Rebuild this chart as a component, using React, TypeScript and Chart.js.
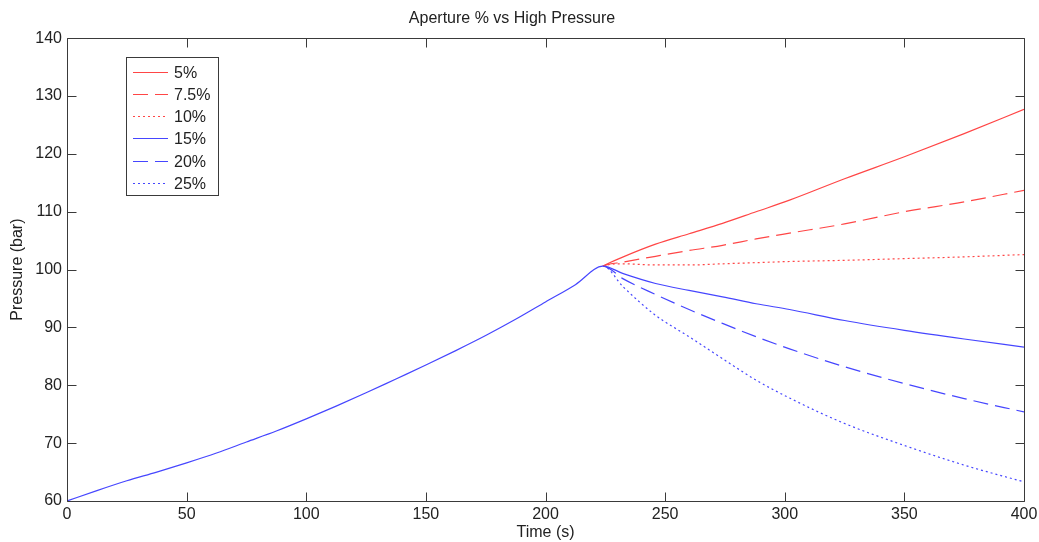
import React, { useEffect, useRef } from "react";
import { Chart, registerables } from "chart.js";

Chart.register(...registerables);

// Shared ramp-up phase (all apertures identical until ~224 s)
const riseTime = [0, 12.5, 25, 37.5, 50, 62.5, 75, 87.5, 100, 112.5, 125, 137.5, 150, 162.5, 175, 187.5, 200, 212.5, 224];
const risePressure = [60, 61.8, 63.5, 65.0, 66.6, 68.3, 70.2, 72.1, 74.2, 76.4, 78.7, 81.1, 83.5, 86.0, 88.6, 91.4, 94.4, 97.4, 100.6];

// Branch phase, after the aperture change
const branchTime = [232.5, 246, 260, 274, 288, 302, 325, 350, 375, 400];
const p5 = [102.2, 104.4, 106.2, 108.0, 110.0, 112.0, 115.7, 119.5, 123.5, 127.7];
const p7_5 = [101.3, 102.3, 103.3, 104.2, 105.3, 106.3, 107.9, 110.0, 111.7, 113.7];
const p10 = [101.0, 100.8, 100.8, 101.0, 101.2, 101.4, 101.6, 101.9, 102.2, 102.6];
const p15 = [99.3, 97.6, 96.4, 95.3, 94.1, 93.1, 91.2, 89.5, 88.0, 86.6];
const p20 = [98.4, 95.7, 93.1, 90.7, 88.4, 86.3, 83.2, 80.3, 77.7, 75.4];
const p25 = [97.0, 92.1, 88.4, 84.6, 80.9, 77.8, 73.4, 69.6, 66.2, 63.3];

const seriesLabels = ["5%", "7.5%", "10%", "15%", "20%", "25%"];
const seriesValues = [p5, p7_5, p10, p15, p20, p25];
const rampShownBy = "15%";

const xTicks = [0, 50, 100, 150, 200, 250, 300, 350, 400];
const yTicks = [60, 70, 80, 90, 100, 110, 120, 130, 140];

const RED = "rgb(255,70,70)";
const BLUE = "rgb(70,70,255)";
const FONT = "'Liberation Sans', Arial, Helvetica, sans-serif";

const styles = [
  { color: RED, dash: [] as number[] },
  { color: RED, dash: [15, 7] },
  { color: RED, dash: [2, 3] },
  { color: BLUE, dash: [] as number[] },
  { color: BLUE, dash: [15, 7] },
  { color: BLUE, dash: [2, 3] },
];

function buildPoints(values: number[]) {
  const pts: { x: number; y: number }[] = [];
  riseTime.forEach((t, i) => pts.push({ x: t, y: risePressure[i] }));
  branchTime.forEach((t, i) => pts.push({ x: t, y: values[i] }));
  return pts;
}

const rampEnd = riseTime[riseTime.length - 1];

const matlabPlugin = {
  id: "matlabBox",
  afterDatasetsDraw(chart: any) {
    const { ctx, chartArea } = chart;
    const xs = chart.scales.x;
    const ys = chart.scales.y;
    const L = Math.round(chartArea.left) + 0.5;
    const R = Math.round(chartArea.right) + 0.5;
    const T = Math.round(chartArea.top) + 0.5;
    const B = Math.round(chartArea.bottom) + 0.5;
    const tl = 9;
    ctx.save();
    ctx.strokeStyle = "#3a3a3a";
    ctx.lineWidth = 1;
    ctx.setLineDash([]);
    ctx.beginPath();
    ctx.rect(L, T, R - L, B - T);
    ctx.stroke();
    ctx.beginPath();
    xTicks.forEach((v) => {
      const px = Math.round(xs.getPixelForValue(v)) + 0.5;
      ctx.moveTo(px, B);
      ctx.lineTo(px, B - tl);
      ctx.moveTo(px, T);
      ctx.lineTo(px, T + tl);
    });
    yTicks.forEach((v) => {
      const py = Math.round(ys.getPixelForValue(v)) + 0.5;
      ctx.moveTo(L, py);
      ctx.lineTo(L + tl, py);
      ctx.moveTo(R, py);
      ctx.lineTo(R - tl, py);
    });
    ctx.stroke();
    ctx.restore();
  },
  afterDraw(chart: any) {
    const { ctx } = chart;
    const bx = 126.5, by = 57.5, bw = 92, bh = 138;
    ctx.save();
    ctx.fillStyle = "#ffffff";
    ctx.fillRect(bx, by, bw, bh);
    ctx.strokeStyle = "#3a3a3a";
    ctx.lineWidth = 1;
    ctx.setLineDash([]);
    ctx.strokeRect(bx, by, bw, bh);
    chart.data.datasets.forEach((ds: any, i: number) => {
      const y = Math.round(71.7 + i * 22.2) + 0.5;
      ctx.strokeStyle = ds.borderColor;
      ctx.lineWidth = 1.2;
      ctx.setLineDash(ds.borderDash || []);
      ctx.beginPath();
      ctx.moveTo(133, y);
      ctx.lineTo(168, y);
      ctx.stroke();
      ctx.setLineDash([]);
      ctx.fillStyle = "#222";
      ctx.font = `16px ${FONT}`;
      ctx.textBaseline = "middle";
      ctx.textAlign = "left";
      ctx.fillText(ds.label, 174, y + 1);
    });
    ctx.restore();
  },
};

export default function App() {
  const canvasRef = useRef<HTMLCanvasElement | null>(null);

  useEffect(() => {
    if (!canvasRef.current) return;
    const datasets = seriesLabels.map((label, i) => ({
      label,
      data: buildPoints(seriesValues[i]),
      borderColor: styles[i].color,
      backgroundColor: styles[i].color,
      borderDash: styles[i].dash,
      borderWidth: 1.2,
      pointRadius: 0,
      fill: false,
      cubicInterpolationMode: "monotone" as const,
      order: label === rampShownBy ? 0 : 1,
      segment:
        label === rampShownBy
          ? undefined
          : {
              borderColor: (c: any) => (c.p1.parsed.x <= rampEnd ? "rgba(0,0,0,0)" : undefined),
            },
    }));
    const chart = new Chart(canvasRef.current, {
      type: "line",
      data: { datasets },
      options: {
        animation: false,
        responsive: false,
        parsing: false as any,
        layout: { padding: { left: 0, right: 15, top: 0, bottom: 0 } },
        plugins: {
          legend: { display: false },
          tooltip: { enabled: false },
          title: {
            display: true,
            text: "Aperture % vs High Pressure",
            color: "#222",
            font: { family: FONT, size: 16, weight: "normal" },
            padding: { top: 9, bottom: 10 },
          },
        },
        scales: {
          x: {
            type: "linear",
            min: 0,
            max: 400,
            grid: { display: false, drawTicks: false },
            border: { display: false },
            ticks: {
              stepSize: 50,
              padding: 4,
              color: "#222",
              font: { family: FONT, size: 16 },
              maxRotation: 0,
            },
            title: {
              display: true,
              text: "Time (s)",
              color: "#222",
              font: { family: FONT, size: 16 },
              padding: { top: 0, bottom: 0 },
            },
            afterFit: (scale: any) => {
              scale.height = 41;
              scale.paddingRight = 0;
              scale.paddingLeft = 0;
            },
          },
          y: {
            type: "linear",
            min: 60,
            max: 140,
            grid: { display: false, drawTicks: false },
            border: { display: false },
            ticks: {
              stepSize: 10,
              padding: 5,
              color: "#222",
              font: { family: FONT, size: 16 },
            },
            title: {
              display: true,
              text: "Pressure (bar)",
              color: "#222",
              font: { family: FONT, size: 16 },
              padding: { top: 8, bottom: 0 },
            },
            afterFit: (scale: any) => {
              scale.width = 67;
            },
          },
        },
      },
      plugins: [matlabPlugin],
    });
    return () => chart.destroy();
  }, []);

  return (
    <div style={{ position: "absolute", left: 0, top: 0, width: 1039, height: 542, background: "#fff" }}>
      <canvas ref={canvasRef} width={1039} height={542} style={{ display: "block" }} />
    </div>
  );
}
